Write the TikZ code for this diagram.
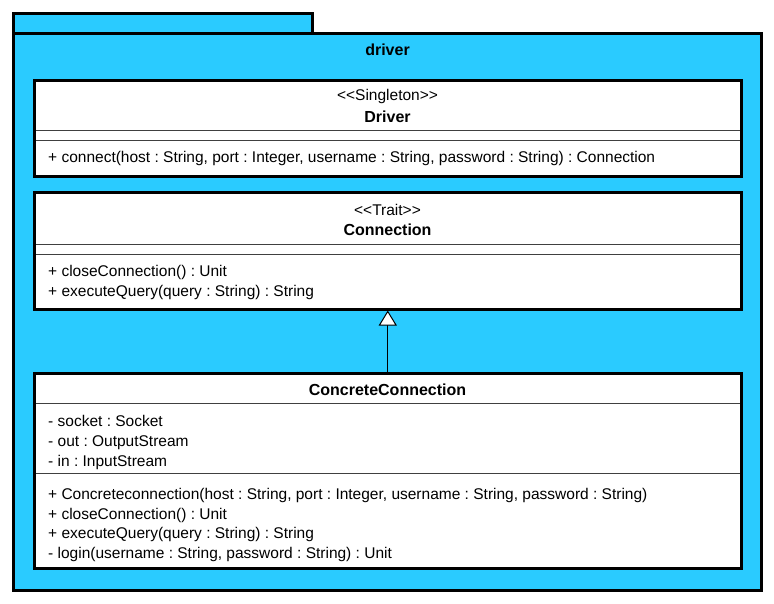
\documentclass[tikz,border=0pt]{standalone}
\usepackage{fontspec}
\defaultfontfeatures{}
\setmainfont{Liberation Sans}[Ligatures=ResetAll]
\usetikzlibrary{arrows.meta}
\definecolor{pkgblue}{RGB}{42,203,255}
\newcommand\dblless{<\kern0pt<}
\newcommand\dblmore{>\kern0pt>}
\frenchspacing
\tikzset{
  pkgshape/.style={draw=black, fill=pkgblue, line width=3bp, rectangle, inner sep=0pt},
  classbox/.style={draw=black, fill=white, line width=3bp, rectangle, inner sep=0pt},
  sepline/.style={draw=black!75, line width=1bp},
  txt/.style={anchor=base west, inner sep=0pt, font=\frenchspacing\fontsize{15.5bp}{18bp}\selectfont},
  ctxt/.style={anchor=base, inner sep=0pt, font=\fontsize{15.5bp}{18bp}\selectfont},
  btxt/.style={anchor=base, inner sep=0pt, font=\fontsize{16bp}{18bp}\selectfont\bfseries},
  inherit/.style={-{Triangle[fill=white,length=15bp,width=18bp]}, line width=1bp}
}
\begin{document}
\begin{tikzpicture}[x=1bp,y=-1bp]
\useasboundingbox (0,0) rectangle (774,604);
% package
\node[pkgshape, minimum width=299bp, minimum height=20bp] (tab) at (163,23.5) {};
\node[pkgshape, minimum width=748bp, minimum height=556.5bp] (pkg) at (387.5,311.75) {};
\node[btxt] (pkgname) at (387.5,56) {driver};
% Driver
\node[classbox, minimum width=706.5bp, minimum height=96bp] (driver) at (387.75,128.5) {};
\draw[sepline] (36,130.5) -- (739.5,130.5);
\draw[sepline] (36,141) -- (739.5,141);
\node[ctxt] (drvst) at (387.5,101) {\dblless Singleton\dblmore};
\node[btxt] (drvname) at (387.5,122.5) {Driver};
\node[txt] (drvm1) at (48,163) {+ connect(host : String, port : Integer, username : String, password : String) : Connection};
% Connection
\node[classbox, minimum width=706.5bp, minimum height=116bp] (conn) at (387.75,251) {};
\draw[sepline] (36,244) -- (739.5,244);
\draw[sepline] (36,254.3) -- (739.5,254.3);
\node[ctxt] (connst) at (387.5,216) {\dblless Trait\dblmore};
\node[btxt] (connname) at (387.5,235.5) {Connection};
\node[txt] (connm1) at (48,276.5) {+ closeConnection() : Unit};
\node[txt] (connm2) at (48,296.5) {+ executeQuery(query : String) : String};
% ConcreteConnection
\node[classbox, minimum width=706.5bp, minimum height=194.5bp] (cc) at (387.75,470.75) {};
\draw[sepline] (36,403) -- (739.5,403);
\draw[sepline] (36,473) -- (739.5,473);
\node[btxt] (ccname) at (387.5,395.5) {ConcreteConnection};
\node[txt] (cca1) at (48,426.5) {- socket : Socket};
\node[txt] (cca2) at (48,446.5) {- out : OutputStream};
\node[txt] (cca3) at (48,466.5) {- in : InputStream};
\node[txt] (ccm1) at (48,499) {+ Concreteconnection(host : String, port : Integer, username : String, password : String)};
\node[txt] (ccm2) at (48,519) {+ closeConnection() : Unit};
\node[txt] (ccm3) at (48,538.5) {+ executeQuery(query : String) : String};
\node[txt] (ccm4) at (48,558.5) {- login(username : String, password : String) : Unit};
% inheritance
\draw[inherit] (cc.north) -- (conn.south);
\end{tikzpicture}
\end{document}
